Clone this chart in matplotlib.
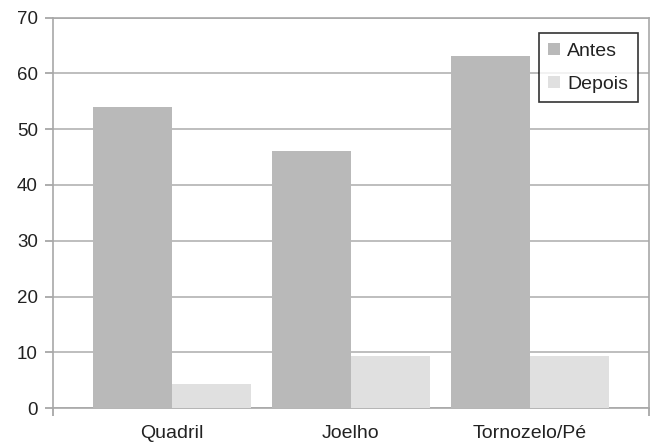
import matplotlib
matplotlib.use("Agg")
import matplotlib.pyplot as plt
import numpy as np

categories = ["Quadril", "Joelho", "Tornozelo/Pé"]
antes = [54, 46.1, 63.1]
depois = [4.3, 9.3, 9.3]
series_names = ["Antes", "Depois"]
yticks = [0, 10, 20, 30, 40, 50, 60, 70]

plt.rcParams['font.family'] = ['Liberation Sans', 'DejaVu Sans']

fig = plt.figure(figsize=(6.55, 4.46), dpi=100)
ax = fig.add_axes([53/655, 1-408.3/446, (649-53)/655, (408.3-17.5)/446])

x = np.arange(len(categories))
w = 0.443
ax.bar(x - w/2, antes, width=w, color="#b9b9b9", label=series_names[0], zorder=3)
ax.bar(x + w/2, depois, width=w, color="#e0e0e0", label=series_names[1], zorder=3)

ax.set_xlim(-0.667, 2.667)
ax.set_ylim(0, 70)
ax.set_yticks(yticks)
ax.set_yticklabels([str(t) for t in yticks])
ax.yaxis.grid(True, color="#b3b3b3", linewidth=1.2, zorder=0)
ax.set_axisbelow(True)

ax.set_xticks(x)
ax.set_xticklabels(categories)
ax.tick_params(axis='x', length=0, pad=12, labelsize=14, colors="#222222")
ax.set_xticks([-0.667, 2.667], minor=True)
ax.tick_params(axis='x', which='minor', length=6, width=1.2, color="#a0a0a0")
ax.tick_params(axis='y', length=6, width=1.2, color="#a0a0a0", pad=5, labelsize=13.5, labelcolor="#222222")

for s in ax.spines.values():
    s.set_color("#a8a8a8")
    s.set_linewidth(1.2)

leg = ax.legend(loc="upper right", bbox_to_anchor=(0.9815, 0.960), frameon=True, fancybox=False,
                edgecolor="black", fontsize=14, handlelength=0.62, handleheight=0.62,
                handletextpad=0.35, borderpad=0.5, labelspacing=0.8, borderaxespad=0)
leg.get_frame().set_linewidth(1.2)
for t in leg.get_texts():
    t.set_color("#222222")

fig.savefig("out.png", dpi=100)
